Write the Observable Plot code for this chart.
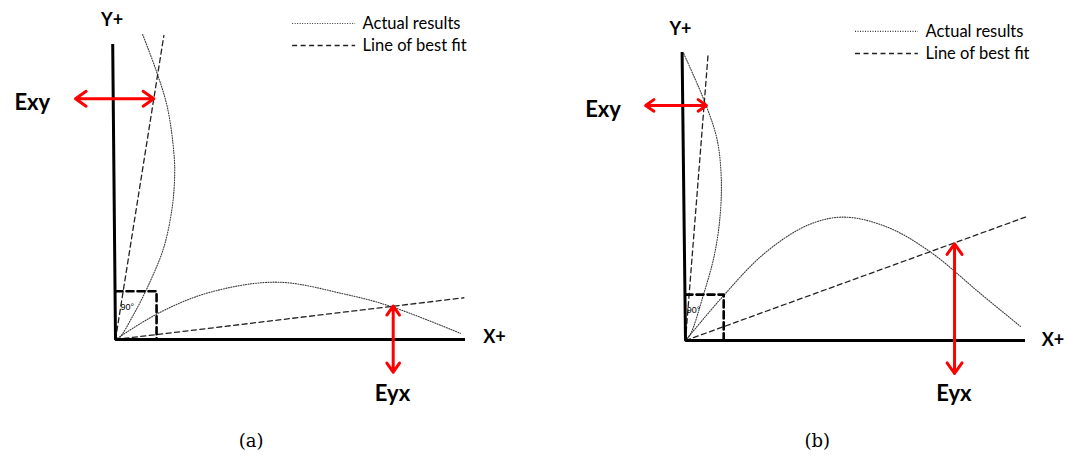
<!DOCTYPE html>
<html>
<head>
<meta charset="utf-8">
<script src="https://cdn.jsdelivr.net/npm/d3@7"></script>
<script src="https://cdn.jsdelivr.net/npm/@observablehq/plot@0.6"></script>
<style>
  body { margin: 0; background: #fff; }
  #chart { display: flex; width: 1066px; height: 456px; }
  #chart svg { overflow: visible; }
</style>
</head>
<body>
<div id="chart"></div>
<script>
// Diagram units: each panel's X axis and Y axis run from 0 to 10.

// Panel (a): a small misalignment between measured and true axes
const actualAlongYA = [[0.78, 10.37], [1.15, 9.21], [1.49, 7.90], [1.68, 6.32], [1.70, 5.58], [1.63, 4.50], [1.39, 3.14], [1.01, 2.01], [0.53, 0.87], [0.09, 0.03], [0, 0]];
const actualAlongXA = [[0, 0], [1.29, 0.93], [2.73, 1.61], [4.65, 1.95], [6.56, 1.55], [7.90, 1.13], [9.91, 0.21]];
const fitAlongYA = [[0, 0], [1.39, 10.34]];
const fitAlongXA = [[0, 0], [10.01, 1.42]];
const axesA = [[-0.08, 10], [0, 0], [10, 0]];
const errorExyA = [[-1.15, 8.19], [1.10, 8.19]];
const errorEyxA = [[7.98, -1.11], [7.98, 1.14]];
const rightAngleA = [1.18, 1.64];

// Panel (b): a larger misalignment
const actualAlongYB = [[-0.05, 9.99], [0.59, 8.25], [0.94, 6.97], [1.06, 5.57], [1.01, 4.18], [0.84, 2.90], [0.54, 1.63], [0.15, 0.23], [0, 0]];
const actualAlongXB = [[0, 0], [1.13, 1.57], [2.32, 3.02], [3.60, 4.01], [4.68, 4.30], [5.97, 3.95], [7.25, 3.08], [8.73, 1.63], [9.91, 0.49]];
const fitAlongYB = [[0, 0], [0.67, 9.99]];
const fitAlongXB = [[0, 0], [10.06, 4.30]];
const axesB = [[-0.10, 10], [0, 0], [10, 0]];
const errorExyB = [[-1.18, 8.19], [0.62, 8.19]];
const errorEyxB = [[7.96, -1.15], [7.96, 3.37]];
const rightAngleB = [1.13, 1.60];

// Text
const axisLabels = ["Y+", "X+"];
const errorLabels = ["Exy", "Eyx"];
const legendLabels = ["Actual results", "Line of best fit"];
const captions = ["(a)", "(b)"];
const angleLabel = "90°";

// Panel layout: scale ranges (pixels) and where labels sit, in diagram units
const panels = [
  {
    caption: captions[0],
    xRange: [115, 463], yRange: [339, 45],
    actualY: actualAlongYA, actualX: actualAlongXA, fitY: fitAlongYA, fitX: fitAlongXA,
    axes: axesA, exy: errorExyA, eyx: errorEyxA, square: rightAngleA,
    yLabel: [-0.10, 10.85], xLabel: [10.89, 0.09],
    exyLabel: [-2.39, 8.04], eyxLabel: [7.96, -1.84],
    angleAt: [0.34, 1.09],
    legend: {x1: 5.09, x2: 6.90, tx: 7.10, rows: [10.75, 10.0]},
    captionAt: [3.9, -3.47]
  },
  {
    caption: captions[1],
    xRange: [152, 490], yRange: [340, 53],
    actualY: actualAlongYB, actualX: actualAlongXB, fitY: fitAlongYB, fitX: fitAlongXB,
    axes: axesB, exy: errorExyB, eyx: errorEyxB, square: rightAngleB,
    yLabel: [-0.15, 10.84], xLabel: [10.87, 0.0],
    exyLabel: [-2.44, 8.03], eyxLabel: [7.94, -1.86],
    angleAt: [0.24, 1.05],
    legend: {x1: 5.03, x2: 6.89, tx: 7.10, rows: [10.77, 10.0]},
    captionAt: [3.9, -3.52]
  }
];

const X = d => d[0], Y = d => d[1];
const dotted = {stroke: "#3a3a3a", strokeWidth: 1.1, strokeDasharray: "1,1.5"};
const dashed = {stroke: "#222", strokeWidth: 1.3, strokeDasharray: "5,3.5"};

// A double-headed arrow drawn as two single-headed halves from its midpoint
function doubleArrow([a, b]) {
  const m = [(a[0] + b[0]) / 2, (a[1] + b[1]) / 2];
  const halves = [{x1: m[0], y1: m[1], x2: a[0], y2: a[1]}, {x1: m[0], y1: m[1], x2: b[0], y2: b[1]}];
  return Plot.arrow(halves, {x1: "x1", y1: "y1", x2: "x2", y2: "y2", stroke: "#f00", strokeWidth: 3,
    headLength: 6.5, headAngle: 70, insetStart: 0, insetEnd: 0});
}

function drawPanel(p) {
  const [su, sv] = p.square;
  const lg = p.legend;
  const legendLines = [
    {x1: lg.x1, x2: lg.x2, y: lg.rows[0], kind: "actual"},
    {x1: lg.x1, x2: lg.x2, y: lg.rows[1], kind: "fit"}
  ];
  const boldLabel = {fontFamily: "Lato, 'Open Sans', sans-serif", fontWeight: "bold", fill: "#000", textAnchor: "middle", lineAnchor: "middle"};
  return Plot.plot({
    width: 533,
    height: 456,
    margin: 0,
    x: {domain: [0, 10], range: p.xRange, axis: null},
    y: {domain: [0, 10], range: p.yRange, axis: null},
    marks: [
      // measured results and fitted lines
      Plot.line(p.actualY, {x: X, y: Y, curve: "catmull-rom", ...dotted}),
      Plot.line(p.actualX, {x: X, y: Y, curve: "catmull-rom", ...dotted}),
      Plot.line(p.fitY, {x: X, y: Y, ...dashed}),
      Plot.line(p.fitX, {x: X, y: Y, ...dashed}),
      // right-angle marker
      Plot.line([[0, sv], [su, sv], [su, 0]], {x: X, y: Y, stroke: "#000", strokeWidth: 2.6, strokeDasharray: "7,4"}),
      Plot.text([angleLabel], {x: p.angleAt[0], y: p.angleAt[1], fontSize: 9, fontFamily: "'Liberation Sans', Arial, sans-serif", fill: "#000"}),
      // axes
      Plot.line(p.axes, {x: X, y: Y, stroke: "#000", strokeWidth: 3, strokeLinejoin: "miter", strokeLinecap: "square"}),
      Plot.text([axisLabels[0]], {x: p.yLabel[0], y: p.yLabel[1], fontSize: 18, ...boldLabel}),
      Plot.text([axisLabels[1]], {x: p.xLabel[0], y: p.xLabel[1], fontSize: 18, ...boldLabel}),
      // error arrows
      doubleArrow(p.exy),
      doubleArrow(p.eyx),
      Plot.text([errorLabels[0]], {x: p.exyLabel[0], y: p.exyLabel[1], fontSize: 22, ...boldLabel}),
      Plot.text([errorLabels[1]], {x: p.eyxLabel[0], y: p.eyxLabel[1], fontSize: 22, ...boldLabel}),
      // legend
      Plot.ruleY(legendLines.filter(d => d.kind === "actual"), {x1: "x1", x2: "x2", y: "y", ...dotted}),
      Plot.ruleY(legendLines.filter(d => d.kind === "fit"), {x1: "x1", x2: "x2", y: "y", ...dashed}),
      Plot.text(legendLabels, {x: lg.tx, y: (d, i) => lg.rows[i], textAnchor: "start", lineAnchor: "middle",
        fontSize: 16.5, fontFamily: "Lato, 'Open Sans', sans-serif", fill: "#000"}),
      // caption
      Plot.text([p.caption], {x: p.captionAt[0], y: p.captionAt[1], fontSize: 18,
        fontFamily: "'DejaVu Serif', 'Liberation Serif', serif", fill: "#000"})
    ]
  });
}

const chart = document.getElementById("chart");
for (const p of panels) chart.appendChild(drawPanel(p));
</script>
</body>
</html>
